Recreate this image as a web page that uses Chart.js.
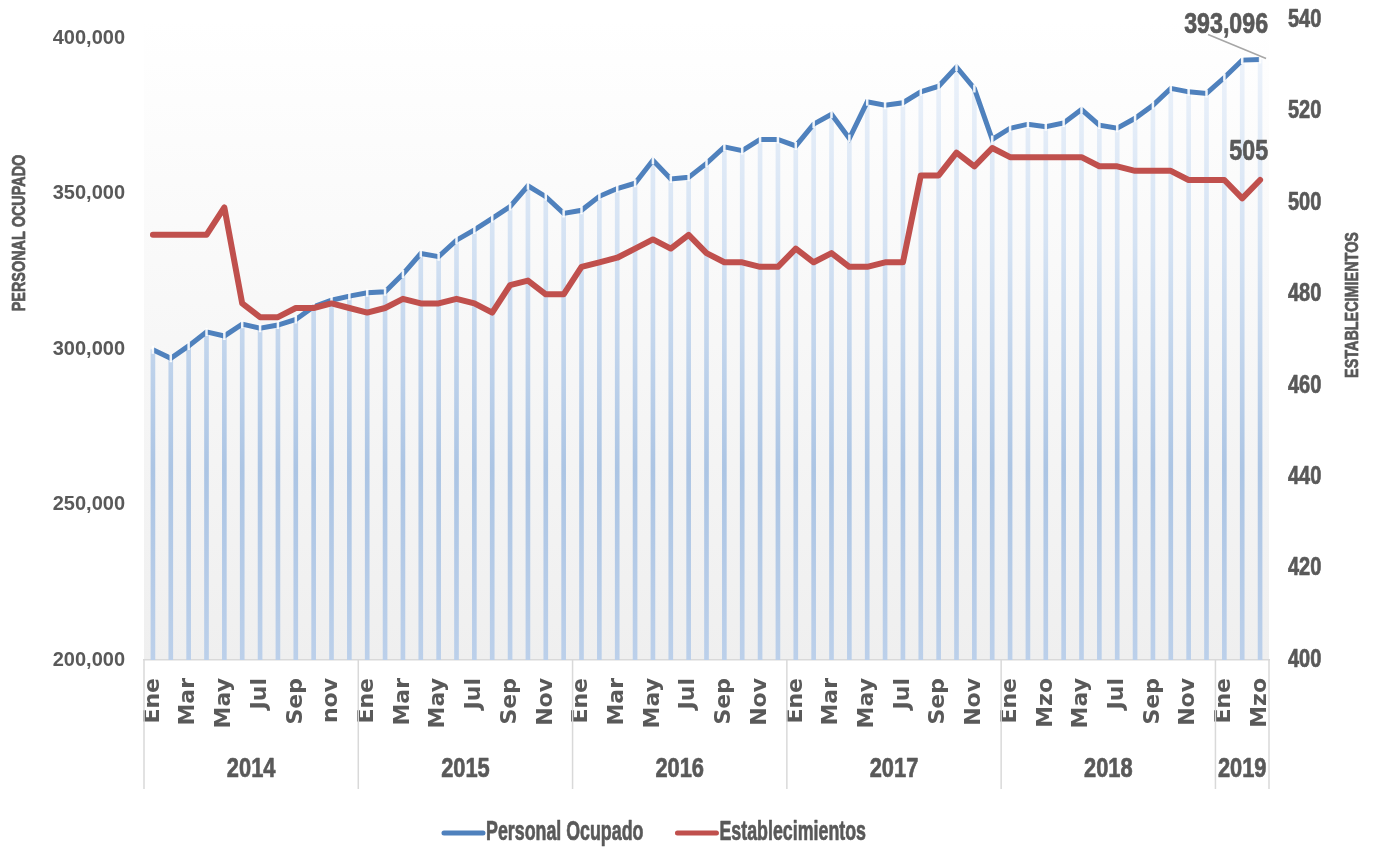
<!DOCTYPE html>
<html>
<head>
<meta charset="utf-8">
<script src="https://cdn.jsdelivr.net/npm/chart.js@4/dist/chart.umd.min.js"></script>
<style>
    html, body { margin: 0; padding: 0; background: #ffffff; }
    #wrap { width: 1377px; height: 852px; }
</style>
</head>
<body>
<div id="wrap"><canvas id="chart" width="1377" height="852"></canvas></div>
<script>
var years = ['2014', '2015', '2016', '2017', '2018', '2019'];
var monthsPerYear = [12, 12, 12, 12, 12, 3];

var months = [
    'Ene', '', 'Mar', '', 'May', '', 'Jul', '', 'Sep', '', 'nov', '',
    'Ene', '', 'Mar', '', 'May', '', 'Jul', '', 'Sep', '', 'Nov', '',
    'Ene', '', 'Mar', '', 'May', '', 'Jul', '', 'Sep', '', 'Nov', '',
    'Ene', '', 'Mar', '', 'May', '', 'Jul', '', 'Sep', '', 'Nov', '',
    'Ene', '', 'Mzo', '', 'May', '', 'Jul', '', 'Sep', '', 'Nov', '',
    'Ene', '', 'Mzo'
];

var personal = [
    299800, 297000, 301000, 305500, 304200, 308000, 306700, 307700, 309500, 313600, 315700, 317000,
    318100, 318400, 324100, 330700, 329700, 335000, 338300, 342000, 345800, 352500, 349000, 343600,
    344600, 349100, 351600, 353300, 360700, 354700, 355200, 359700, 365000, 363800, 367400, 367400,
    365300, 372300, 375500, 367700, 379500, 378400, 379200, 382700, 384500, 390700, 383800, 367400,
    371000, 372300, 371500, 372700, 377000, 372000, 371000, 374200, 378400, 383800, 382700, 382200,
    387300, 392900, 393096
];

var establecimientos = [
    493, 493, 493, 493, 499, 478, 475, 475, 477, 477, 478, 477,
    476, 477, 479, 478, 478, 479, 478, 476, 482, 483, 480, 480,
    486, 487, 488, 490, 492, 490, 493, 489, 487, 487, 486, 486,
    490, 487, 489, 486, 486, 487, 487, 506, 506, 511, 508, 512,
    510, 510, 510, 510, 510, 508, 508, 507, 507, 507, 505, 505,
    505, 501, 505
];

var leftTicks = [200000, 250000, 300000, 350000, 400000];
var rightTicks = [400, 420, 440, 460, 480, 500, 520, 540];
var legendNames = ['Personal Ocupado', 'Establecimientos'];

var BLUE = '#4f81bd';
var RED = '#c0504d';
var GREY_TEXT = '#595959';
var SANS = '"Liberation Sans", Arial, sans-serif';

function fmt(n) {
    return n.toString().replace(/\B(?=(\d{3})+(?!\d))/g, ',');
}

// no narrow font installed, so squeeze Liberation Sans Bold sideways
// and give it a thin outline so it stays as heavy as the original
function narrowText(c, text, x, y, size, align, angle, sx) {
    c.save();
    c.fillStyle = GREY_TEXT;
    c.strokeStyle = GREY_TEXT;
    c.lineWidth = 0.7;
    c.lineJoin = 'round';
    c.font = 'bold ' + size + 'px ' + SANS;
    c.textAlign = align;
    c.textBaseline = 'middle';
    c.translate(x, y);
    if (angle) c.rotate(angle);
    c.scale(sx || 0.8, 1);
    c.fillText(text, 0, 0);
    c.strokeText(text, 0, 0);
    c.restore();
}

function narrowWidth(c, text, size, sx) {
    c.save();
    c.font = 'bold ' + size + 'px ' + SANS;
    var w = c.measureText(text).width * (sx || 0.8);
    c.restore();
    return w;
}

function barGradient(context) {
    var chart = context.chart;
    var area = chart.chartArea;
    if (!area) return 'rgba(180,200,230,0.8)';
    var g = chart.ctx.createLinearGradient(0, area.bottom, 0, area.top);
    g.addColorStop(0, 'rgba(188,208,234,1)');
    g.addColorStop(0.3, 'rgba(172,197,228,1)');
    g.addColorStop(0.65, 'rgba(212,226,243,1)');
    g.addColorStop(1, 'rgba(242,246,252,1)');
    return g;
}

// plot background, a soft grey fade
var backgroundPlugin = {
    id: 'plotBackground',
    beforeDraw: function(chart) {
        var c = chart.ctx, a = chart.chartArea;
        var g = c.createLinearGradient(0, a.top, 0, a.bottom);
        g.addColorStop(0, '#ffffff');
        g.addColorStop(1, '#efefef');
        c.save();
        c.fillStyle = g;
        c.fillRect(a.left, a.top, a.right - a.left, a.bottom - a.top);
        c.restore();
    }
};

// y tick labels, year groups, axis titles, legend
var decorPlugin = {
    id: 'decor',
    afterDraw: function(chart) {
        var c = chart.ctx, a = chart.chartArea;
        var x = chart.scales.x, y = chart.scales.y, y2 = chart.scales.y2;

        c.save();
        c.fillStyle = GREY_TEXT;
        c.font = 'bold 20px ' + SANS;
        c.textAlign = 'right';
        c.textBaseline = 'middle';
        leftTicks.forEach(function(v) {
            c.fillText(fmt(v), a.left - 19, y.getPixelForValue(v));
        });
        c.restore();
        rightTicks.forEach(function(v) {
            narrowText(c, String(v), a.right + 19, y2.getPixelForValue(v), 25, 'left');
        });

        var half = (x.getPixelForValue(1) - x.getPixelForValue(0)) / 2;
        var start = 0;
        var edges = [x.getPixelForValue(0) - half];
        for (var i = 0; i < years.length; i++) {
            var end = start + monthsPerYear[i] - 1;
            var left = x.getPixelForValue(start) - half;
            var right = x.getPixelForValue(end) + half;
            edges.push(right);
            narrowText(c, years[i], (left + right) / 2, 769, 28, 'center', 0, 0.78);
            start = end + 1;
        }
        c.save();
        c.strokeStyle = '#d9d9d9';
        c.lineWidth = 1.5;
        edges.forEach(function(ex) {
            c.beginPath();
            c.moveTo(ex, a.bottom);
            c.lineTo(ex, 789);
            c.stroke();
        });
        c.restore();

        narrowText(c, 'PERSONAL OCUPADO', 20, 233, 18, 'center', -Math.PI / 2);
        narrowText(c, 'ESTABLECIMIENTOS', 1353, 305, 18, 'center', -Math.PI / 2);

        // legend
        var colors = [BLUE, RED];
        var lineLen = 43, gap = 1, between = 32, size = 27, sx = 0.66;
        var total = 0;
        legendNames.forEach(function(n, k) {
            total += lineLen + gap + narrowWidth(c, n, size, sx) + (k ? 0 : between);
        });
        var lx = 654 - total / 2, ly = 833;
        legendNames.forEach(function(n, k) {
            c.save();
            c.strokeStyle = colors[k];
            c.lineWidth = 5;
            c.lineCap = 'round';
            c.beginPath();
            c.moveTo(lx + 2, ly);
            c.lineTo(lx + lineLen - 2, ly);
            c.stroke();
            c.restore();
            narrowText(c, n, lx + lineLen + gap, ly, size, 'left', 0, sx);
            lx += lineLen + gap + narrowWidth(c, n, size, sx) + between;
        });
    }
};

// value labels on the last month
var lastLabelPlugin = {
    id: 'lastLabels',
    afterDatasetsDraw: function(chart) {
        var c = chart.ctx;
        var last = personal.length - 1;
        var px = chart.scales.x.getPixelForValue(last);
        var py = chart.scales.y.getPixelForValue(personal[last]);
        var ry = chart.scales.y2.getPixelForValue(establecimientos[last]);
        c.save();
        c.strokeStyle = '#a6a6a6';
        c.lineWidth = 1.5;
        c.beginPath();
        c.moveTo(px - 52, py - 25);
        c.lineTo(px + 6, py - 1);
        c.stroke();
        c.restore();
        narrowText(c, fmt(personal[last]), px + 8, py - 35, 29, 'right');
        narrowText(c, String(establecimientos[last]), px + 8, ry - 28, 29, 'right');
    }
};

new Chart(document.getElementById('chart'), {
    data: {
        labels: months,
        datasets: [{
            type: 'line',
            label: 'Establecimientos',
            data: establecimientos,
            yAxisID: 'y2',
            borderColor: RED,
            backgroundColor: RED,
            borderWidth: 6,
            pointRadius: 0,
            borderCapStyle: 'round',
            borderJoinStyle: 'round',
            tension: 0,
            order: 1
        }, {
            type: 'line',
            label: 'Personal Ocupado',
            data: personal,
            yAxisID: 'y',
            borderColor: BLUE,
            backgroundColor: BLUE,
            borderWidth: 5,
            pointStyle: 'line',
            rotation: 90,
            pointRadius: 4,
            pointBorderWidth: 2.5,
            pointBorderColor: 'rgba(255,255,255,0.9)',
            tension: 0,
            order: 2
        }, {
            type: 'bar',
            label: 'fondo',
            data: personal,
            yAxisID: 'y',
            backgroundColor: barGradient,
            barThickness: 4,
            order: 3
        }]
    },
    options: {
        responsive: false,
        animation: false,
        layout: { padding: { top: 20, right: 0, left: 0, bottom: 0 } },
        plugins: {
            tooltip: { enabled: false },
            legend: { display: false }
        },
        scales: {
            x: {
                offset: true,
                grid: { display: false, drawTicks: false },
                border: { display: true, color: '#d9d9d9', width: 1.5 },
                ticks: {
                    autoSkip: false,
                    minRotation: 90,
                    maxRotation: 90,
                    padding: 18,
                    color: GREY_TEXT,
                    font: { family: '"DejaVu Sans", sans-serif', size: 22, weight: 'bold' }
                },
                afterFit: function(scale) { scale.height = 192; }
            },
            y: {
                position: 'left',
                min: 200000,
                max: 405800,
                grid: { display: false, drawTicks: false },
                border: { display: false },
                ticks: { display: false },
                afterFit: function(scale) { scale.width = 144; }
            },
            y2: {
                position: 'right',
                min: 400,
                max: 540,
                grid: { display: false, drawTicks: false },
                border: { display: false },
                ticks: { display: false },
                afterFit: function(scale) { scale.width = 108; }
            }
        }
    },
    plugins: [backgroundPlugin, decorPlugin, lastLabelPlugin]
});
</script>
</body>
</html>
